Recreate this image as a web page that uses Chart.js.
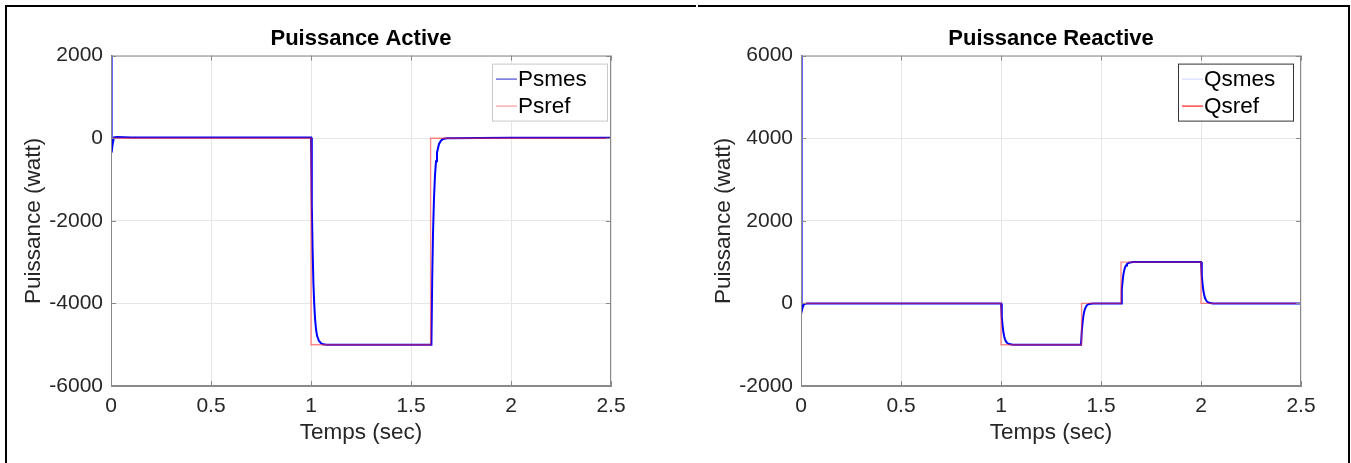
<!DOCTYPE html>
<html>
<head>
<meta charset="utf-8">
<title>Puissance Active / Reactive</title>
<script src="https://cdn.jsdelivr.net/npm/chart.js@4.4.0/dist/chart.umd.min.js"></script>
<style>
  html,body{margin:0;padding:0;background:#fff;}
  #page{position:relative;width:1351px;height:463px;overflow:hidden;background:#fff;}
  canvas{position:absolute;top:0;}
  .frame{position:absolute;background:#000;}
</style>
</head>
<body>
<div id="page">
  <div class="frame" style="left:5px;top:5px;width:691px;height:2px"></div>
  <div class="frame" style="left:698px;top:5px;width:652px;height:2px"></div>
  <div class="frame" style="left:5px;top:5px;width:2px;height:458px"></div>
  <div class="frame" style="left:1348px;top:5px;width:2px;height:458px"></div>
  <canvas id="chartP" width="690" height="463" style="left:0"></canvas>
  <canvas id="chartQ" width="661" height="463" style="left:690px"></canvas>
</div>
<script>
// x axis ticks (s)
const timeTicks = [0, 0.5, 1, 1.5, 2, 2.5];

// active power: measured Psmes
const psmesT = [0, 0.003, 0.008, 0.015, 0.03, 0.1, 0.5, 1.0, 1.004, 1.008, 1.012, 1.016, 1.02, 1.025, 1.03, 1.04, 1.05, 1.06, 1.08, 1.3, 1.602,
                1.606, 1.61, 1.615, 1.62, 1.625, 1.63, 1.64, 1.65, 1.66, 1.68, 2.0, 2.5];
const psmesV = [2600, -350, -150, 20, 30, 15, 15, 15, -1600, -2700, -3500, -4000, -4350, -4620, -4780, -4910, -4965, -4990, -5000, -5000, -5000,
                -3400, -2300, -1450, -900, -560, -350, -140, -60, -20, 0, 10, 10];
// active power: reference Psref
const psrefT = [0, 1.0, 1.0, 1.598, 1.598, 2.5];
const psrefV = [0, 0, -5000, -5000, 0, 0];

// reactive power: measured Qsmes
const qsmesT = [0, 0.003, 0.008, 0.015, 0.03, 0.5, 1.0, 1.004, 1.008, 1.012, 1.016, 1.02, 1.025, 1.03, 1.04, 1.06, 1.4,
                1.404, 1.408, 1.412, 1.416, 1.42, 1.425, 1.43, 1.44, 1.46, 1.6,
                1.604, 1.608, 1.612, 1.616, 1.62, 1.625, 1.63, 1.64, 1.66, 2.0,
                2.004, 2.008, 2.012, 2.016, 2.02, 2.025, 2.03, 2.04, 2.06, 2.5];
const qsmesV = [6500, -200, -100, -20, 0, 0, 0, -330, -540, -700, -800, -870, -920, -955, -985, -1000, -1000,
                -670, -460, -300, -200, -130, -80, -45, -15, 0, 0,
                330, 540, 700, 800, 870, 920, 955, 985, 1000, 1000,
                670, 460, 300, 200, 130, 80, 45, 15, 0, 0];
// reactive power: reference Qsref
const qsrefT = [0, 1.0, 1.0, 1.403, 1.403, 1.6, 1.6, 2.0, 2.0, 2.5];
const qsrefV = [0, 0, -1000, -1000, 0, 0, 1000, 1000, 0, 0];

const pTicks = [-6000, -4000, -2000, 0, 2000];
const qTicks = [-2000, 0, 2000, 4000, 6000];

const FONT = "'Liberation Sans', Arial, sans-serif";
Chart.defaults.font.family = FONT;
Chart.defaults.color = '#262626';

const pts = (ts, vs) => ts.map((t, i) => ({x: t, y: vs[i]}));

// axes box, inward tick marks and boxed legend
const boxPlugin = {
  id: 'matBox',
  afterDatasetsDraw(chart, args, opts){
    const {ctx, chartArea: a, scales} = chart;
    ctx.save();
    ctx.strokeStyle = '#8a8a8a';
    ctx.lineWidth = 1;
    ctx.strokeRect(a.left + 0.5, a.top + 0.5, a.right - a.left - 1, a.bottom - a.top - 1);
    ctx.beginPath();
    timeTicks.forEach(t => {
      const x = Math.round(scales.x.getPixelForValue(t)) + 0.5;
      ctx.moveTo(x, a.top); ctx.lineTo(x, a.top + 5);
      ctx.moveTo(x, a.bottom); ctx.lineTo(x, a.bottom - 5);
    });
    scales.y.ticks.forEach(tk => {
      const y = Math.round(scales.y.getPixelForValue(tk.value)) + 0.5;
      ctx.moveTo(a.left, y); ctx.lineTo(a.left + 5, y);
      ctx.moveTo(a.right, y); ctx.lineTo(a.right - 5, y);
    });
    ctx.stroke();

    // legend
    const w = 116, h = 58;
    const lx = a.right - opts.inset - w, ly = a.top + 8;
    ctx.fillStyle = '#fff';
    ctx.fillRect(lx, ly, w, h);
    ctx.strokeStyle = opts.border;
    ctx.strokeRect(lx + 0.5, ly + 0.5, w - 1, h - 1);
    ctx.font = '22.5px ' + FONT;
    ctx.textBaseline = 'middle';
    ctx.textAlign = 'left';
    opts.labels.forEach((lab, i) => {
      const y = ly + 15 + i * 27;
      ctx.strokeStyle = opts.colors[i];
      ctx.lineWidth = 1.2;
      ctx.beginPath();
      ctx.moveTo(lx + 4, y + 0.5); ctx.lineTo(lx + 25, y + 0.5);
      ctx.stroke();
      ctx.fillStyle = '#000';
      ctx.fillText(lab, lx + 26, y + 1);
    });
    ctx.restore();
  }
};

function makeChart(id, title, padRight, yMin, yMax, yTicks, meas, ref, legend){
  return new Chart(document.getElementById(id), {
    type: 'line',
    data: {
      datasets: [
        {label: legend.labels[0], data: meas, borderColor: '#0000ff', borderWidth: 2, pointRadius: 0, tension: 0, order: 2},
        {label: legend.labels[1], data: ref, borderColor: 'rgba(255,40,40,0.55)', borderWidth: 1.4, pointRadius: 0, tension: 0, order: 1}
      ]
    },
    options: {
      responsive: false,
      animation: false,
      layout: {padding: {top: 0, right: padRight, bottom: 0, left: 0}},
      plugins: {
        legend: {display: false},
        tooltip: {enabled: false},
        title: {
          display: true, text: title, fullSize: false, color: '#000',
          font: {size: 22, weight: 'bold', lineHeight: 1.2},
          padding: {top: 25.8, bottom: 3.4}
        },
        matBox: legend
      },
      scales: {
        x: {
          type: 'linear', min: 0, max: 2.5,
          afterBuildTicks: s => { s.ticks = timeTicks.map(v => ({value: v})); },
          afterFit: s => { s.height = 77; },
          grid: {color: '#e6e6e6', drawTicks: false},
          border: {color: '#8a8a8a'},
          ticks: {padding: 8, font: {size: 21}, callback: v => String(v)},
          title: {display: true, text: 'Temps (sec)', font: {size: 22.5, lineHeight: 1.2}, padding: {bottom: 16.5}}
        },
        y: {
          min: yMin, max: yMax,
          afterBuildTicks: s => { s.ticks = yTicks.map(v => ({value: v})); },
          afterFit: s => { s.width = 111; },
          grid: {color: '#e6e6e6', drawTicks: false},
          border: {color: '#8a8a8a'},
          ticks: {padding: 8, font: {size: 21}, callback: v => String(v)},
          title: {display: true, text: 'Puissance (watt)', font: {size: 22.5, lineHeight: 1.2}, padding: {top: 20.5}}
        }
      }
    },
    plugins: [boxPlugin]
  });
}

makeChart('chartP', 'Puissance Active', 79, -6000, 2000, pTicks,
  pts(psmesT, psmesV), pts(psrefT, psrefV),
  {labels: ['Psmes', 'Psref'], colors: ['#4b4bd6', '#ff9a9a'], border: '#c8c8c8', inset: 3});

makeChart('chartQ', 'Puissance Reactive', 50, -2000, 6000, qTicks,
  pts(qsmesT, qsmesV), pts(qsrefT, qsrefV),
  {labels: ['Qsmes', 'Qsref'], colors: ['#d3dbff', '#ff1a1a'], border: '#333', inset: 7});
</script>
</body>
</html>
